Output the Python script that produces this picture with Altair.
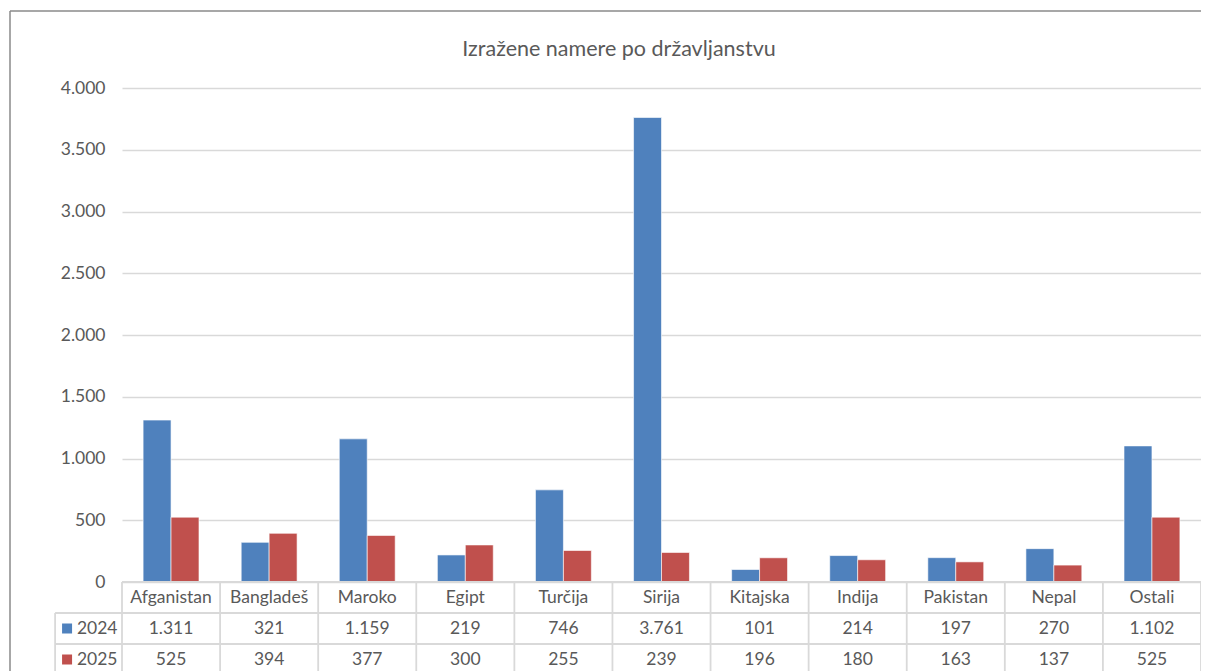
import altair as alt
import pandas as pd

categories = ["Afganistan", "Bangladeš", "Maroko", "Egipt", "Turčija", "Sirija",
              "Kitajska", "Indija", "Pakistan", "Nepal", "Ostali"]
values_2024 = [1311, 321, 1159, 219, 746, 3761, 101, 214, 197, 270, 1102]
values_2025 = [525, 394, 377, 300, 255, 239, 196, 180, 163, 137, 525]
years = ["2024", "2025"]
y_ticks = [0, 500, 1000, 1500, 2000, 2500, 3000, 3500, 4000]
title_text = "Izražene namere po državljanstvu"

BLUE, RED = "#4f81bd", "#c0504d"
TXT = "#595959"
GRID = "#d9d9d9"
FONT = "Lato"
LBL = 17.5
W, H = 1079, 494


def fmt(v):
    return f"{v:,}".replace(",", ".")


rows = []
for c, a, b in zip(categories, values_2024, values_2025):
    rows.append({"cat": c, "year": "2024", "value": a, "label": fmt(a), "row": 1.5})
    rows.append({"cat": c, "year": "2025", "value": b, "label": fmt(b), "row": 2.5})
df = pd.DataFrame(rows)
df_cat = pd.DataFrame({"cat": categories, "row": [0.5] * len(categories)})
df_hdr = pd.DataFrame({"year": years, "row": [1.5, 2.5]})

# table grid in column/row units
HDR = -0.682
n = len(categories)
lines = []
for i in range(n + 1):
    lines.append({"x": i, "x2": i, "y": 0, "y2": 3.3})
lines.append({"x": HDR, "x2": HDR, "y": 1, "y2": 3.3})
lines.append({"x": 0, "x2": n, "y": 0, "y2": 0})
for r in [1, 2, 3]:
    lines.append({"x": HDR, "x2": n, "y": r, "y2": r})
df_lines = pd.DataFrame(lines)

xq = alt.Scale(domain=[0, n], nice=False, zero=False)
yq = alt.Scale(domain=[0, 3], range=[H, H + 93], nice=False, zero=False)
xb = alt.Scale(domain=categories, paddingInner=0, paddingOuter=0)
color_scale = alt.Scale(domain=years, range=[BLUE, RED])

one = pd.DataFrame({"k": [0]})
frame_top = alt.Chart(one).mark_rule(color="#8a8a8a", strokeWidth=1.5).encode(
    x=alt.value(-112), x2=alt.value(W), y=alt.value(-77))
frame_left = alt.Chart(one).mark_rule(color="#8a8a8a", strokeWidth=1.5).encode(
    x=alt.value(-112), y=alt.value(-77), y2=alt.value(600))

title = alt.Chart(pd.DataFrame({"t": [title_text]})).mark_text(
    font=FONT, fontSize=21.5, color=TXT, baseline="middle", align="center"
).encode(text="t:N", x=alt.value(497), y=alt.value(-38))

bars = alt.Chart(df).mark_bar(stroke="#ffffff", strokeWidth=0.6).encode(
    x=alt.X("cat:N", sort=categories, scale=xb, axis=None),
    xOffset=alt.XOffset("year:N", scale=alt.Scale(domain=years, paddingInner=0, paddingOuter=0.755)),
    y=alt.Y("value:Q", scale=alt.Scale(domain=[0, 4000], nice=False),
            axis=alt.Axis(values=y_ticks, title=None, ticks=False, domain=False,
                          grid=True, gridColor=GRID, gridWidth=1.5,
                          labelFont=FONT, labelFontSize=LBL, labelColor=TXT,
                          labelPadding=17,
                          labelExpr="replace(format(datum.value, ','), ',', '.')")),
    color=alt.Color("year:N", scale=color_scale, legend=None),
)

grid_lines = alt.Chart(df_lines).mark_rule(color=GRID, strokeWidth=1.8).encode(
    x=alt.X("x:Q", scale=xq, axis=None), x2="x2:Q",
    y=alt.Y("y:Q", scale=yq, axis=None), y2="y2:Q",
)

cat_text = alt.Chart(df_cat).mark_text(
    font=FONT, fontSize=LBL, color=TXT, baseline="middle"
).encode(
    x=alt.X("cat:N", sort=categories, scale=xb, axis=None),
    y=alt.Y("row:Q", scale=yq, axis=None),
    text="cat:N",
)

val_text = alt.Chart(df).mark_text(
    font=FONT, fontSize=LBL, color=TXT, baseline="middle"
).encode(
    x=alt.X("cat:N", sort=categories, scale=xb, axis=None),
    y=alt.Y("row:Q", scale=yq, axis=None),
    text="label:N",
)

hdr_sq = alt.Chart(df_hdr).mark_square(size=100, opacity=1).encode(
    x=alt.X("sx:Q", scale=xq, axis=None),
    y=alt.Y("row:Q", scale=yq, axis=None),
    color=alt.Color("year:N", scale=color_scale, legend=None),
).transform_calculate(sx="-0.56")

hdr_text = alt.Chart(df_hdr).mark_text(
    font=FONT, fontSize=LBL, color=TXT, baseline="middle", align="left"
).encode(
    x=alt.X("tx:Q", scale=xq, axis=None),
    y=alt.Y("row:Q", scale=yq, axis=None),
    text="year:N",
).transform_calculate(tx="-0.46")

chart = alt.layer(
    frame_top, frame_left, title, bars, grid_lines, cat_text, val_text, hdr_sq, hdr_text
).resolve_scale(x="independent", y="independent").properties(
    width=W, height=H,
    autosize=alt.AutoSizeParams(type="none"),
    padding={"left": 114, "top": 80, "right": 0, "bottom": 100},
).configure_view(stroke=None)

chart.save("out.html", embed_options={"renderer": "svg", "actions": False})
